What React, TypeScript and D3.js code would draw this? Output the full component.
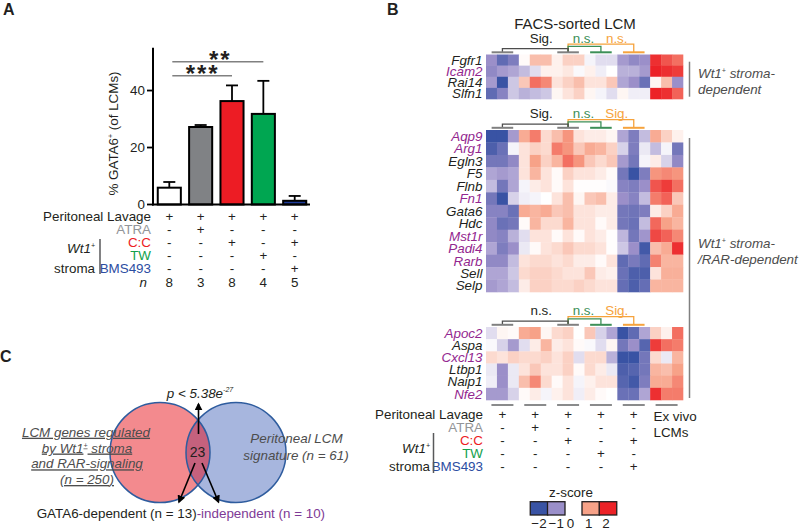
import React from "react";
import * as d3 from "d3";

const FONT = "'Liberation Sans', Arial, Helvetica, sans-serif";

// ---------- Panel A data ----------
const conditions = ["PL", "PL+ATRA", "PL+C:C", "PL+TW", "PL+C:C+BMS493"];
const gataMean = [5.9, 27.2, 36.3, 31.8, 1.3];
const gataSem = [2.0, 0.7, 5.5, 11.6, 1.7];
const barColors = ["#FFFFFF", "#808285", "#ED1C24", "#00A651", "#1F3C9A"];
const nValues = ["8", "3", "8", "4", "5"];
const yTicksA = [0, 20, 40];

const treatmentLabels = ["Peritoneal Lavage", "ATRA", "C:C", "TW", "BMS493"];
const treatmentColors = ["#231F20", "#939598", "#ED1C24", "#12A14B", "#2B4DA2"];
const treatmentSigns = [
  ["+", "+", "+", "+", "+"],
  ["-", "+", "-", "-", "-"],
  ["-", "-", "+", "-", "+"],
  ["-", "-", "-", "+", "-"],
  ["-", "-", "-", "-", "+"],
];

// ---------- Panel B data ----------
const genesTop = ["Fgfr1", "Icam2", "Rai14", "Slfn1"];
const zTop = [
  [-1.0, -1.6, -1.3, 0.05, 0.7, 0.7, 0.15, 0.5, 0.5, -0.1, -0.3, -0.3, -0.9, -1.1, -1.0, 1.9, 1.6, 1.4],
  [-1.1, -0.9, -0.8, -0.6, -0.3, 0.15, 0.15, 0.25, -0.05, 0.15, -0.15, 0, -0.7, -0.7, -0.9, 2.0, 1.9, 1.8],
  [-0.9, -2.0, -0.5, 0.6, 1.4, 1.2, 0.3, 0.5, 0.7, 0.3, 0.3, 0.6, -0.8, -1.0, -1.5, 0.1, 0.7, -1.0],
  [-1.6, -1.2, -0.5, -0.7, -0.6, -0.5, 0.1, 0.3, 0.5, 0.1, -0.1, -0.3, 0.1, -0.15, -0.15, 2.0, 1.9, 1.5],
];
const genesMid = ["Aqp9", "Arg1", "Egln3", "F5", "Flnb", "Fn1", "Gata6", "Hdc", "Mst1r", "Padi4", "Rarb", "Sell", "Selp"];
const zMid = [
  [-2, -2, -0.9, 0.9, 1.3, 0.4, 0.7, 1.1, 0.3, 0.2, 0.2, 0.1, -0.8, -1.3, -0.6, 0.9, 0.5, 0.15],
  [-1.8, -1.5, -0.1, 0.3, 0.5, 0.4, 1.3, 1.1, 0.6, 0.9, 0.8, 0.5, -0.4, -1.3, -0.2, -0.6, -0.1, -1.4],
  [-1.4, -1.4, -1.1, 0.3, 1.0, 0.5, 0.8, 1.4, 1.1, 0.6, 0.4, 0.6, -0.9, -1.4, -0.1, 0.2, -0.4, -1.1],
  [-0.8, -0.9, -0.8, 0.3, 0.8, 0.3, 0.05, 0.5, 0.3, 0.3, 0.2, 0.05, -1.4, -2.0, -1.3, 1.1, 1.2, 1.1],
  [-0.6, -1.4, -0.8, -0.1, 0.2, 0.3, 0.05, 0.3, 0.02, 0.02, 0.02, -0.05, -1.2, -1.3, -1.0, 1.6, 1.8, 1.4],
  [-1.4, -2.0, -0.4, -0.15, -0.1, 0, 0.3, 0.7, 0.1, 0.6, 0.7, 0.2, -1.0, -1.2, -0.6, 1.3, 1.5, 0.6],
  [-1.2, -1.2, -1.5, 0.9, 0.8, 0.9, 0.6, 0.7, 0.3, 0.3, 0.2, 0.2, -1.4, -1.45, -1.3, 0.2, 0.5, 0.9],
  [-1.1, -1.5, -1.4, 0.05, 0.8, 0.4, 0.4, 0.8, 0.3, 0.3, 0.05, 0.2, -1.4, -1.5, -0.6, 1.45, 1.0, 0.8],
  [-1.1, -1.2, -0.7, -0.3, 0.3, 0.3, 0.05, 0.3, 0.05, 0.3, 0.2, 0.02, -0.65, -1.4, -0.95, 1.7, 1.5, 1.2],
  [-0.8, -1.3, -1.0, -0.2, 0.05, 0.3, 0.4, 0.6, 0.4, 0.4, 0.3, 0.02, -0.5, -1.0, -1.9, 0.7, 0.9, 1.9],
  [-1.1, -1.1, -0.6, 0.3, 0.4, 0.4, 0.3, 0.4, 0.2, 0.2, 0.05, 0.3, -1.6, -1.35, -1.6, 1.25, 0.8, 0.8],
  [-0.8, -0.8, -0.5, 0.4, 0.5, 0.5, 0.4, 0.3, 0.3, 0.6, 0.2, 0.15, -1.5, -1.8, -1.8, 0.3, 0.85, 0.85],
  [-0.9, -0.8, -0.6, 0.2, 0.5, 0.5, 0.4, 0.4, 0.5, 0.4, 0.3, 0.3, -1.55, -1.8, -1.55, 0.8, 0.8, 0.8],
];
const genesBot = ["Apoc2", "Aspa", "Cxcl13", "Ltbp1", "Naip1", "Nfe2"];
const zBot = [
  [-0.3, 0.1, 0.05, 0.9, 1.0, 0.1, 0.4, 0.5, 0, 0.6, -0.4, -0.8, -2.0, -1.6, -0.8, 0.5, 0.15, 1.4],
  [-0.05, -0.4, -0.9, -0.3, 0.2, 0.8, 0.2, 0.3, 0.05, -0.05, -0.3, 0.1, -1.4, -1.0, -1.7, 1.8, 1.4, 1.3],
  [0.4, 0.3, 0.5, 0.4, 0.4, 0.5, 0.3, 0.5, -0.3, 0.4, 0.4, -0.7, -2.0, -2.0, -1.4, 0.4, -0.2, 0.8],
  [-0.2, -1.0, -0.2, 0.3, 0.6, 0.3, 0.3, 0.5, 0.05, 0.4, 0.2, -0.2, -1.8, -1.7, -1.4, 0.8, 0.7, 1.0],
  [-0.15, -1.0, -0.2, 0.7, 1.2, 0.4, 0.05, 0.3, -0.1, 0.15, 0.3, 0.3, -1.7, -1.9, -1.3, 0.9, 0.9, 1.2],
  [-0.9, -0.9, -0.4, 0.05, 0.2, -0.1, 0.15, 0.3, -0.15, 0.2, 0.05, 0, -1.5, -1.5, -0.8, 1.9, 1.3, 1.3],
];
const purpleGenes = ["Icam2", "Aqp9", "Arg1", "Fn1", "Mst1r", "Padi4", "Rarb", "Apoc2", "Cxcl13", "Nfe2"];
const blockTests = [
  ["Sig.", "n.s.", "n.s."],
  ["Sig.", "n.s.", "Sig."],
  ["n.s.", "n.s.", "Sig."],
];
const legendValues = [-2, -1, 1, 2];
const legendTicks = [-2, -1, 0, 1, 2];

// ---------- Panel C data ----------
const vennLeftN = 250;
const vennRightN = 61;
const vennOverlap = 23;
const gataDep = 13;
const gataIndep = 10;

const BLACK = "#231F20";
const PURPLE = "#93278F";
const GRAY_TXT = "#4D4D4D";
const DG = "#3C8F57";
const OR = "#F6A33D";

export default function App() {
  // ---- Panel A scales ----
  const xA = d3.scaleBand<string>().domain(conditions).range([153, 311]).paddingInner(0.2).paddingOuter(0.12);
  const yA = d3.scaleLinear().domain([0, 55]).range([204.5, 47.8]);
  const bwA = xA.bandwidth();
  const cA = (i: number) => (xA(conditions[i]) as number) + bwA / 2;
  const rowYA = [220.5, 233.7, 246.9, 260.1, 273.3];

  // ---- Panel B scales ----
  const cols = d3.range(18);
  const xH = d3.scaleBand<number>().domain(cols).range([486, 683]);
  const cw = xH.bandwidth();
  const gc = (g: number) => (xH(g * 3) as number) + cw * 1.5;
  const color = d3
    .scaleLinear<string>()
    .domain([-2, -1, 0, 1, 2])
    .range(["#3953A4", "#9B8FC9", "#FFFFFF", "#F7A288", "#EC2227"])
    .clamp(true);

  const blocks = [
    { genes: genesTop, z: zTop, y0: 54.5, y1: 99 },
    { genes: genesMid, z: zMid, y0: 130, y1: 292 },
    { genes: genesBot, z: zBot, y0: 327, y1: 400 },
  ];
  const rowYB = [419.3, 432.3, 445.2, 458.1, 471];
  const legendX = d3.scaleLinear().domain([-2, 2]).range([539, 608]);

  // ---- Panel C geometry ----
  const vr = 50;
  const vL = { x: 160, y: 452.5 };
  const vR = { x: 236, y: 452.5 };

  return (
    <svg
      width={800}
      height={529}
      style={{ position: "absolute", left: 0, top: 0, background: "#fff" }}
      fontFamily={FONT}
    >
      <defs>
        <marker id="arrow" viewBox="0 0 10 10" refX="8" refY="5" markerWidth="5" markerHeight="5" orient="auto-start-reverse">
          <path d="M0,0 L10,5 L0,10 z" fill="#000" />
        </marker>
        <clipPath id="clipLeft">
          <circle cx={vL.x} cy={vL.y} r={vr} />
        </clipPath>
      </defs>

      {/* ---------------- Panel A ---------------- */}
      <text x={3} y={14.5} fontSize={16} fontWeight="bold" fill={BLACK}>A</text>

      {conditions.map((c, i) => (
        <g key={c}>
          <line x1={cA(i)} x2={cA(i)} y1={yA(gataMean[i])} y2={yA(gataMean[i] + gataSem[i])} stroke="#000" strokeWidth={1.8} />
          <line x1={cA(i) - 6} x2={cA(i) + 6} y1={yA(gataMean[i] + gataSem[i])} y2={yA(gataMean[i] + gataSem[i])} stroke="#000" strokeWidth={1.8} />
          <rect
            x={(xA(c) as number) + 1}
            y={yA(gataMean[i])}
            width={bwA - 2}
            height={yA(0) - yA(gataMean[i])}
            fill={barColors[i]}
            stroke="#000"
            strokeWidth={2}
          />
        </g>
      ))}
      <line x1={153} x2={153} y1={yA(0) + 1} y2={yA(55)} stroke="#000" strokeWidth={2} />
      <line x1={152} x2={310} y1={yA(0)} y2={yA(0)} stroke="#000" strokeWidth={2} />
      {yTicksA.map((t) => (
        <g key={t}>
          <line x1={147} x2={153} y1={yA(t)} y2={yA(t)} stroke="#000" strokeWidth={1.8} />
          <text x={145} y={yA(t) + 4.7} fontSize={13.4} textAnchor="end" fill={BLACK}>{t}</text>
        </g>
      ))}
      <text transform={`translate(118,133.5) rotate(-90)`} fontSize={13.4} textAnchor="middle" fill={BLACK}>
        <tspan>% GATA6</tspan>
        <tspan dy={-5} fontSize={7}>+</tspan>
        <tspan dy={5}> (of LCMs)</tspan>
      </text>
      {/* significance */}
      <line x1={cA(0) + 3} x2={cA(3)} y1={61.7} y2={61.7} stroke="#808080" strokeWidth={1.6} />
      <text x={(cA(0) + cA(3)) / 2 + 4} y={67.5} fontSize={24} fontWeight="bold" textAnchor="middle" fill={BLACK} letterSpacing={2}>**</text>
      <line x1={cA(0) + 3} x2={cA(2)} y1={75.7} y2={75.7} stroke="#808080" strokeWidth={1.6} />
      <text x={(cA(0) + cA(2)) / 2 + 2} y={82} fontSize={24} fontWeight="bold" textAnchor="middle" fill={BLACK} letterSpacing={2}>***</text>

      {/* table A */}
      {treatmentLabels.map((lab, r) => (
        <g key={lab}>
          <text x={151} y={rowYA[r]} fontSize={13.4} textAnchor="end" fill={treatmentColors[r]}>{lab}</text>
          {treatmentSigns[r].map((s, i) => (
            <text key={i} x={cA(i)} y={rowYA[r]} fontSize={13.4} textAnchor="middle" fill={BLACK}>{s}</text>
          ))}
        </g>
      ))}
      <text x={147} y={286.5} fontSize={13.4} textAnchor="end" fontStyle="italic" fill={BLACK}>n</text>
      {nValues.map((n, i) => (
        <text key={i} x={cA(i)} y={286.5} fontSize={13.4} textAnchor="middle" fill={BLACK}>{n}</text>
      ))}
      <text x={95} y={253} fontSize={13.4} textAnchor="end" fontStyle="italic" fill={BLACK}>
        <tspan>Wt1</tspan>
        <tspan dy={-5} fontSize={7}>+</tspan>
      </text>
      <text x={95} y={273} fontSize={13.4} textAnchor="end" fill={BLACK}>stroma</text>
      <line x1={100} x2={100} y1={239} y2={274} stroke="#58595B" strokeWidth={1.5} />

      {/* ---------------- Panel B ---------------- */}
      <text x={387} y={14.5} fontSize={16} fontWeight="bold" fill={BLACK}>B</text>
      <text x={575} y={29} fontSize={15} textAnchor="middle" fill={BLACK}>FACS-sorted LCM</text>

      {blocks.map((b, bi) => {
        const yB = d3.scaleBand<string>().domain(b.genes).range([b.y0, b.y1]);
        const rh = yB.bandwidth();
        const top = b.y0;
        const yBar = top - 2.2;
        const yK = top - 5.8;
        const yG = top - 8.2;
        const yO = top - 10.4;
        const yL = top - 11.8;
        const [lk, lg, lo] = blockTests[bi];
        return (
          <g key={bi}>
            {b.genes.map((gname, r) => (
              <g key={gname}>
                {b.z[r].map((v, c) => (
                  <rect key={c} x={xH(c)} y={yB(gname)} width={cw + 0.3} height={rh + 0.3} fill={color(v)} />
                ))}
                <text
                  x={482.5}
                  y={(yB(gname) as number) + rh / 2 + 4.7}
                  fontSize={13.4}
                  fontStyle="italic"
                  textAnchor="end"
                  fill={purpleGenes.includes(gname) ? PURPLE : BLACK}
                >
                  {gname}
                </text>
              </g>
            ))}
            <path d={`M${gc(2)},${yBar} V${yO} H${gc(4)} V${yBar}`} fill="none" stroke={OR} strokeWidth={1.3} />
            <path d={`M${gc(2)},${yBar} V${yG} H${gc(3)} V${yBar}`} fill="none" stroke={DG} strokeWidth={1.3} />
            <path d={`M${gc(0)},${yBar} V${yK} H${gc(2)} V${yBar}`} fill="none" stroke="#4D4D4D" strokeWidth={1.3} />
            {[0, 2].map((g) => (
              <line key={g} x1={gc(g) - 10.8} x2={gc(g) + 10.8} y1={yBar} y2={yBar} stroke="#808080" strokeWidth={2} />
            ))}
            <line x1={gc(3) - 10.8} x2={gc(3) + 10.8} y1={yBar} y2={yBar} stroke={DG} strokeWidth={2} />
            <line x1={gc(4) - 10.8} x2={gc(4) + 10.8} y1={yBar} y2={yBar} stroke={OR} strokeWidth={2} />
            <text x={(gc(0) + gc(2)) / 2 + 6} y={yL} fontSize={13.4} textAnchor="middle" fill={BLACK}>{lk}</text>
            <text x={(gc(2) + gc(3)) / 2 - 1} y={yL} fontSize={13.4} textAnchor="middle" fill={DG}>{lg}</text>
            <text x={gc(4) - 17} y={yL} fontSize={13.4} textAnchor="middle" fill={OR}>{lo}</text>
          </g>
        );
      })}

      {/* right annotations */}
      <line x1={689.5} x2={689.5} y1={61.7} y2={96.7} stroke="#808080" strokeWidth={1.5} />
      <text x={698} y={77.5} fontSize={13.4} fontStyle="italic" fill={GRAY_TXT}>
        <tspan>Wt1</tspan>
        <tspan dy={-5} fontSize={7}>+</tspan>
        <tspan dy={5}> stroma-</tspan>
      </text>
      <text x={698} y={94} fontSize={13.4} fontStyle="italic" fill={GRAY_TXT}>dependent</text>
      <line x1={689.5} x2={689.5} y1={138} y2={398} stroke="#808080" strokeWidth={1.5} />
      <text x={698} y={248} fontSize={13.4} fontStyle="italic" fill={GRAY_TXT}>
        <tspan>Wt1</tspan>
        <tspan dy={-5} fontSize={7}>+</tspan>
        <tspan dy={5}> stroma-</tspan>
      </text>
      <text x={698} y={264} fontSize={13.4} fontStyle="italic" fill={GRAY_TXT}>/RAR-dependent</text>

      {/* group underlines */}
      {d3.range(6).map((g) => (
        <line key={g} x1={gc(g) - 11} x2={gc(g) + 11} y1={405} y2={405} stroke="#58595B" strokeWidth={1.4} />
      ))}

      {/* table B */}
      {treatmentLabels.map((lab, r) => (
        <g key={lab}>
          <text x={483} y={rowYB[r]} fontSize={13.4} textAnchor="end" fill={treatmentColors[r]}>{lab}</text>
          {treatmentSigns[r].map((s, i) => (
            <text key={i} x={gc(i)} y={rowYB[r]} fontSize={13.4} textAnchor="middle" fill={BLACK}>{s}</text>
          ))}
        </g>
      ))}
      <text x={653.5} y={420.5} fontSize={13.4} fill={BLACK}>Ex vivo</text>
      <text x={653.5} y={437} fontSize={13.4} fill={BLACK}>LCMs</text>
      <text x={430} y={453} fontSize={13.4} textAnchor="end" fontStyle="italic" fill={BLACK}>
        <tspan>Wt1</tspan>
        <tspan dy={-5} fontSize={7}>+</tspan>
      </text>
      <text x={430} y={471} fontSize={13.4} textAnchor="end" fill={BLACK}>stroma</text>
      <line x1={433.5} x2={433.5} y1={433} y2={473} stroke="#58595B" strokeWidth={1.5} />

      {/* legend */}
      <text x={571} y={496.7} fontSize={13.4} textAnchor="middle" fill={BLACK}>z-score</text>
      {legendValues.map((v) => (
        <rect key={v} x={legendX(v) - 8.75} y={501.7} width={17.5} height={13.3} fill={color(v)} stroke="#231F20" strokeWidth={1.3} />
      ))}
      {legendTicks.map((t) => (
        <text key={t} x={legendX(t) - (t === 0 ? 3 : t > 0 ? 2 : 0)} y={527.5} fontSize={13.4} textAnchor="middle" fill={BLACK}>
          {t < 0 ? `\u2212${-t}` : `${t}`}
        </text>
      ))}

      {/* ---------------- Panel C ---------------- */}
      <text x={0} y={361.7} fontSize={16} fontWeight="bold" fill={BLACK}>C</text>
      <circle cx={vL.x} cy={vL.y} r={vr} fill="#F38A8E" />
      <circle cx={vR.x} cy={vR.y} r={vr} fill="#A7B6DE" />
      <circle cx={vR.x} cy={vR.y} r={vr} fill="#C5617D" clipPath="url(#clipLeft)" />
      <circle cx={vL.x} cy={vL.y} r={vr} fill="none" stroke="#2E5C9E" strokeWidth={1.5} />
      <circle cx={vR.x} cy={vR.y} r={vr} fill="none" stroke="#2E5C9E" strokeWidth={1.5} />
      <text x={197.5} y={456.7} fontSize={14} textAnchor="middle" fill={BLACK}>{vennOverlap}</text>
      <line x1={198.5} x2={198.5} y1={434} y2={404} stroke="#000" strokeWidth={1.6} markerEnd="url(#arrow)" />
      <line x1={195} x2={179} y1={463} y2={502} stroke="#000" strokeWidth={1.6} markerEnd="url(#arrow)" />
      <line x1={202} x2={218.5} y1={463} y2={502} stroke="#000" strokeWidth={1.6} markerEnd="url(#arrow)" />
      <text x={200} y={398} fontSize={13.4} fontStyle="italic" textAnchor="middle" fill={BLACK}>
        <tspan>p &lt; 5.38e</tspan>
        <tspan dy={-6} fontSize={7}>-27</tspan>
      </text>

      <g fontSize={13.4} fontStyle="italic" fill={GRAY_TXT} textAnchor="middle" textDecoration="underline">
        <text x={86} y={436.7}>LCM genes regulated</text>
        <text x={87} y={452.5}>
          <tspan>by Wt1</tspan>
          <tspan dy={-5} fontSize={7}>+</tspan>
          <tspan dy={5}> stroma</tspan>
        </text>
        <text x={87} y={468.3}>and RAR-signaling</text>
        <text x={87} y={484}>(n = {vennLeftN})</text>
      </g>
      <g fontSize={13.4} fontStyle="italic" fill={GRAY_TXT} textAnchor="middle">
        <text x={296.5} y={443.3}>Peritoneal LCM</text>
        <text x={296} y={460}>signature (n = {vennRightN})</text>
      </g>
      <text x={36.7} y={518.3} fontSize={13.4} fill={BLACK}>
        <tspan>GATA6-dependent (n = {gataDep})</tspan>
        <tspan fill="#7E3A96">-independent (n = {gataIndep})</tspan>
      </text>
    </svg>
  );
}
